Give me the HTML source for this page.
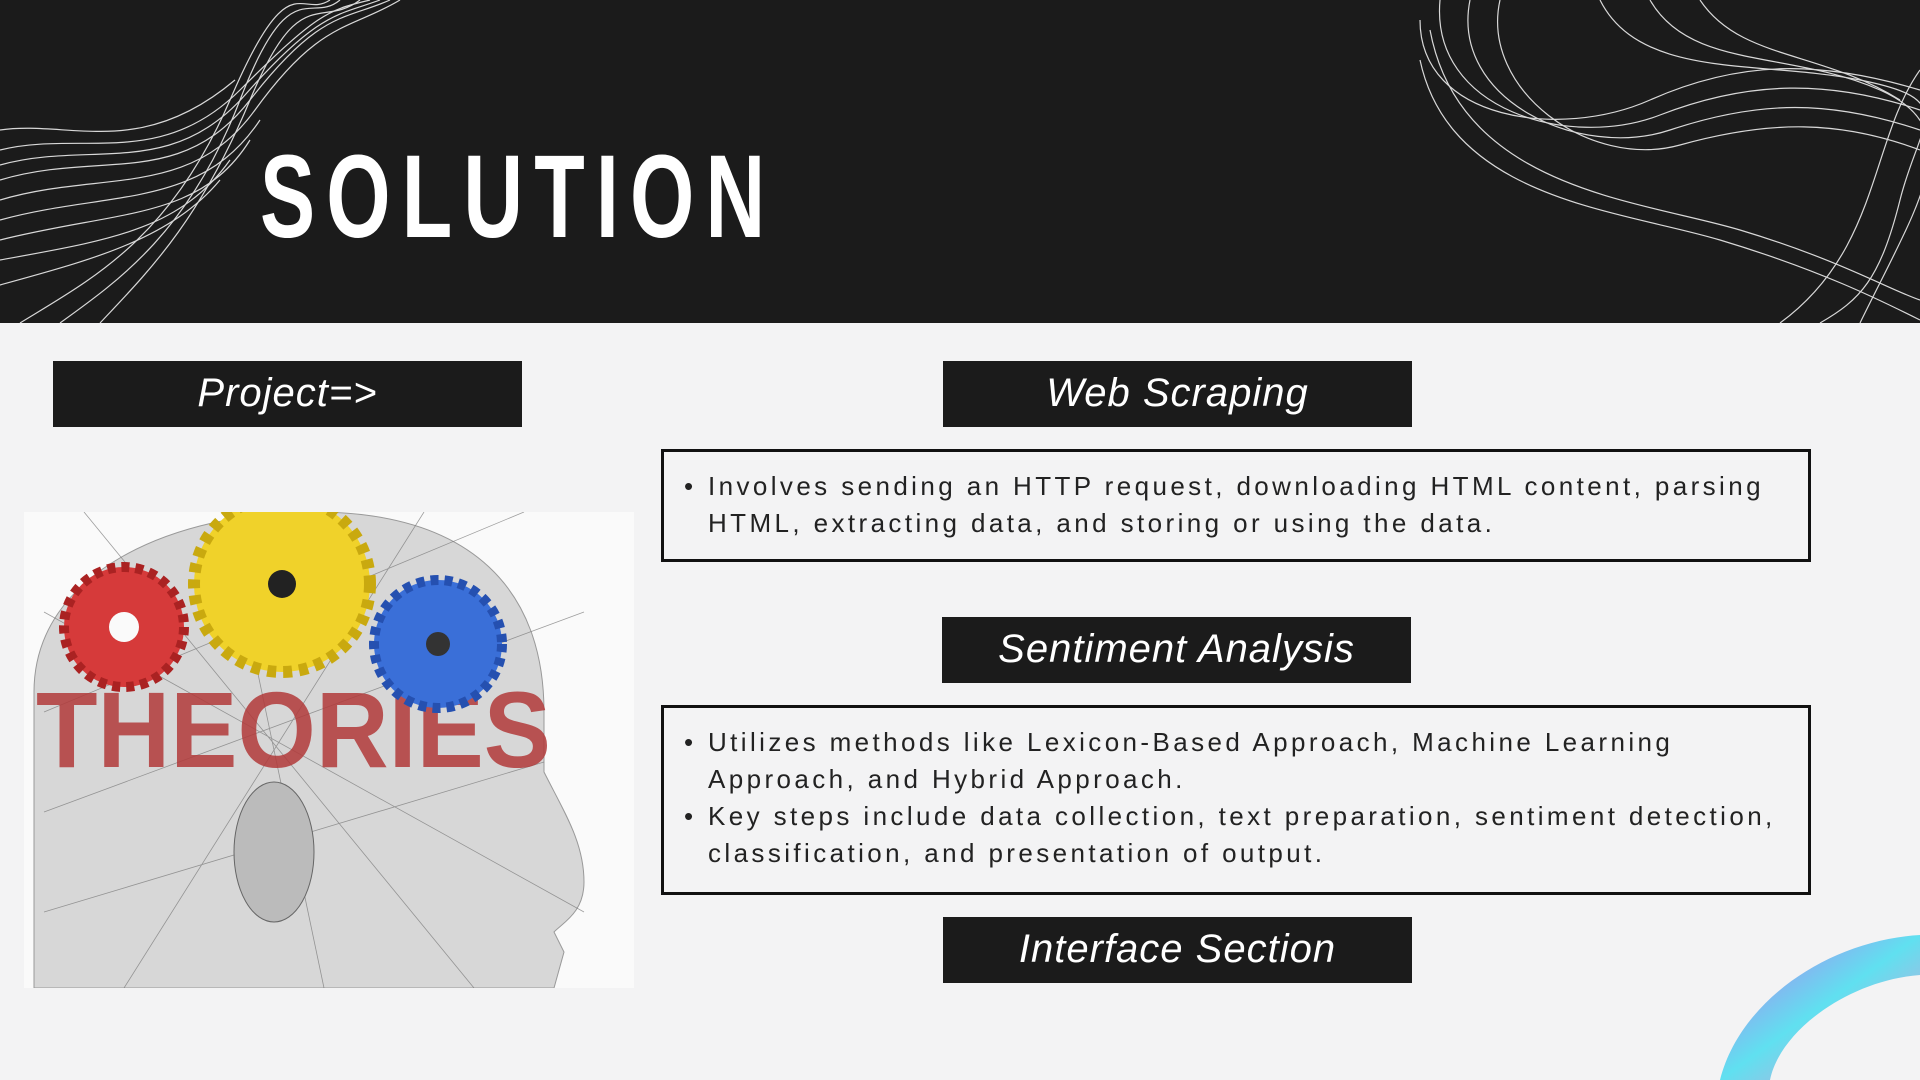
<!DOCTYPE html>
<html><head><meta charset="utf-8"><style>
*{margin:0;padding:0;box-sizing:border-box}
body{width:1920px;height:1080px;background:#f3f3f4;position:relative;overflow:hidden;font-family:"Liberation Sans",sans-serif}
.hdr{position:absolute;left:0;top:0;width:1920px;height:323px;background:#1b1b1b;overflow:hidden}
.title{position:absolute;left:260px;top:138px;font-weight:bold;font-size:118px;letter-spacing:16px;color:#fff;line-height:1;transform:scaleX(0.7);transform-origin:left top;white-space:nowrap}
.lbl{position:absolute;background:#1b1b1b;color:#fff;font-style:italic;font-size:40px;text-align:center;height:66px;line-height:64px;width:469px;letter-spacing:1px}
.box{position:absolute;border:3px solid #111;background:#f3f3f4;font-size:26px;letter-spacing:3.4px;color:#222;line-height:37px;padding:16px 0 0 44px;white-space:nowrap}
.box p{position:relative}
.box p.b:before{content:"•";position:absolute;left:-24px}
</style></head><body>
<div class="hdr">
<svg width="1920" height="323" style="position:absolute;left:0;top:0" fill="none" stroke="#d8d8d8" stroke-width="1.2">
<g>
<path d="M0 150 C80 130 160 170 240 90 S330 10 370 0"/>
<path d="M0 165 C90 140 170 180 245 95 S340 15 380 0"/>
<path d="M0 180 C100 150 180 190 250 100 S345 20 390 0"/>
<path d="M0 200 C100 170 190 200 255 110 S350 30 400 0"/>
<path d="M0 220 C110 190 200 210 260 120"/>
<path d="M0 240 C120 210 200 220 250 140"/>
<path d="M0 260 C110 240 180 230 230 160"/>
<path d="M0 285 C90 260 170 240 220 180"/>
<path d="M20 323 C90 280 170 240 230 100 S300 20 330 0"/>
<path d="M60 323 C120 280 190 230 240 100 S310 25 340 0"/>
<path d="M100 323 C150 270 200 220 250 100 S320 30 360 0"/>
<path d="M0 130 C70 120 140 160 235 80"/>
</g>
<g>
<path d="M1420 20 C1420 120 1560 140 1650 100 S1820 60 1920 90"/>
<path d="M1440 0 C1430 110 1570 150 1660 115 S1830 80 1920 110"/>
<path d="M1470 0 C1450 100 1580 160 1670 130 S1830 100 1920 130"/>
<path d="M1500 0 C1480 90 1590 170 1680 145 S1840 120 1920 150"/>
<path d="M1420 60 C1450 200 1620 210 1720 240 S1880 300 1920 320"/>
<path d="M1430 30 C1460 190 1640 200 1740 230 S1890 290 1920 300"/>
<path d="M1600 0 C1640 80 1760 60 1860 80 S1920 120 1900 200 S1860 300 1820 323"/>
<path d="M1650 0 C1690 70 1790 50 1880 90 S1920 200 1860 323"/>
<path d="M1700 0 C1740 60 1820 50 1900 100"/>
<path d="M1920 70 C1870 140 1880 250 1780 323"/>
</g>
</svg>
<div class="title">SOLUTION</div>
</div>
<div class="lbl" style="left:53px;top:361px">Project=&gt;</div>
<div class="lbl" style="left:943px;top:361px">Web Scraping</div>
<div class="box" style="left:661px;top:449px;width:1150px;height:113px"><p class="b">Involves sending an HTTP request, downloading HTML content, parsing</p><p>HTML, extracting data, and storing or using the data.</p></div>
<div class="lbl" style="left:942px;top:617px">Sentiment Analysis</div>
<div class="box" style="left:661px;top:705px;width:1150px;height:190px"><p class="b">Utilizes methods like Lexicon-Based Approach, Machine Learning</p><p>Approach, and Hybrid Approach.</p><p class="b">Key steps include data collection, text preparation, sentiment detection,</p><p>classification, and presentation of output.</p></div>
<div class="lbl" style="left:943px;top:917px">Interface Section</div>
<svg width="610" height="476" style="position:absolute;left:24px;top:512px">
<rect width="610" height="476" fill="#fafafa"/>
<path d="M10 476 L10 180 C10 60 150 0 290 0 C450 0 520 80 520 200 L520 260 C540 300 560 330 560 370 C560 400 540 410 530 420 L540 440 L530 476 Z" fill="#d7d7d7" stroke="#999"/>
<g stroke="#777" stroke-width="0.8" opacity="0.7">
<path d="M20 100 L560 400 M20 200 L500 0 M100 476 L400 0 M300 476 L200 0 M20 300 L560 100 M20 400 L520 250 M450 476 L60 0"/>
</g>
<ellipse cx="250" cy="340" rx="40" ry="70" fill="#bbb" stroke="#666"/>
<text x="12" y="255" font-family="Liberation Sans" font-weight="bold" font-size="108" fill="#b23a3a" opacity="0.85" textLength="515" lengthAdjust="spacingAndGlyphs">THEORIES</text>
<circle cx="100" cy="115" r="60" fill="#d63a3a" stroke="#a22" stroke-width="10" stroke-dasharray="8 6"/>
<circle cx="100" cy="115" r="15" fill="#fafafa"/>
<circle cx="258" cy="72" r="88" fill="#f0d22a" stroke="#c9a90f" stroke-width="12" stroke-dasharray="9 7"/>
<circle cx="258" cy="72" r="14" fill="#222"/>
<circle cx="414" cy="132" r="64" fill="#3a6fd8" stroke="#2550b0" stroke-width="10" stroke-dasharray="8 6"/>
<circle cx="414" cy="132" r="12" fill="#333"/>
</svg>
<svg width="220" height="150" style="position:absolute;left:1700px;top:930px">
<defs><linearGradient id="g" x1="0" y1="0" x2="1" y2="1"><stop offset="0" stop-color="#c070f0"/><stop offset="0.5" stop-color="#60e0f0"/><stop offset="1" stop-color="#f090d0"/></linearGradient></defs>
<path d="M20 150 C40 70 130 10 220 5 L220 45 C150 50 80 100 70 150 Z" fill="url(#g)"/>
</svg>
</body></html>
